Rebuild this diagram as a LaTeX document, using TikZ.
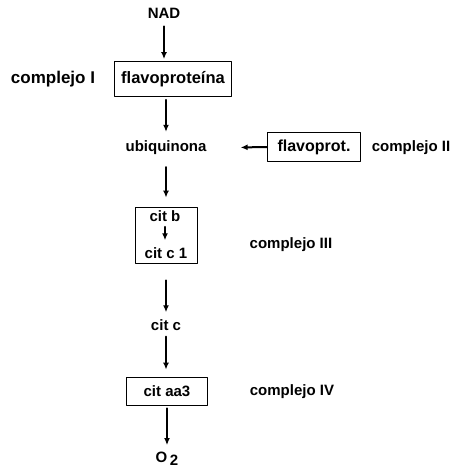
\documentclass[tikz,border=0pt]{standalone}
\usepackage{fontspec}
\setmainfont{Liberation Sans}
\usetikzlibrary{arrows.meta}

\begin{document}
\begin{tikzpicture}[x=1pt,y=-1pt,line cap=round,line join=round,
    lbl/.style={font=\fontsize{15}{18}\selectfont\bfseries,inner sep=0pt},
    box/.style={draw,line width=0.8pt,inner sep=0pt},
    flow/.style={-{Latex[length=7pt,width=6pt]},line width=2pt}]
  \useasboundingbox (0,0) rectangle (454,469);
  \node[lbl] (nad) at (164,13) {NAD};
  \node[box,lbl,minimum width=117pt,minimum height=35pt,font=\fontsize{16.5}{18}\selectfont\bfseries] (flavo) at (173,79) {flavoproteína};
  \node[lbl,font=\fontsize{17}{18}\selectfont\bfseries] (cI) at (53,79) {complejo I};
  \node[lbl] (ubi) at (166,148) {ubiquinona};
  \node[box,lbl,minimum width=93pt,minimum height=29pt,font=\fontsize{16}{18}\selectfont\bfseries] (fp) at (314,147) {flavoprot.};
  \node[lbl] (cII) at (411,148) {complejo II};
  \node[box,minimum width=62pt,minimum height=56pt] (c3) at (166,235) {};
  \node[lbl] (citb) at (165,216) {cit b};
  \node[lbl] (citc1) at (166,253) {cit c 1};
  \node[lbl] (cIII) at (291,245) {complejo III};
  \node[lbl] (citc) at (166,325) {cit c};
  \node[box,lbl,minimum width=81pt,minimum height=28pt] (aa3) at (167,391) {cit aa3};
  \node[lbl] (cIV) at (292,392) {complejo IV};
  \node[lbl] (o2) at (167,459) {O\,\raisebox{-3pt}{2}};
  % cadena respiratoria
  \draw[flow,shorten <=8pt,shorten >=2pt] (nad) -- (nad |- flavo.north);
  \draw[flow,shorten <=3pt,shorten >=9pt] (flavo.south -| ubi) -- (ubi);
  \draw[flow,shorten >=34pt] (fp.west) -- (ubi.east);
  \draw[flow,shorten <=12pt,shorten >=9pt] (ubi) -- (c3);
  \draw[flow,line width=1.5pt,shorten <=5pt,shorten >=7pt] (citb) -- (citb |- citc1.north);
  \draw[flow,shorten <=17pt,shorten >=7pt] (c3) -- (citc);
  \draw[flow,shorten <=6pt,shorten >=7pt] (citc) -- (citc |- aa3.north);
  \draw[flow,shorten <=3pt,shorten >=7pt] (aa3) -- (o2);
\end{tikzpicture}
\end{document}
